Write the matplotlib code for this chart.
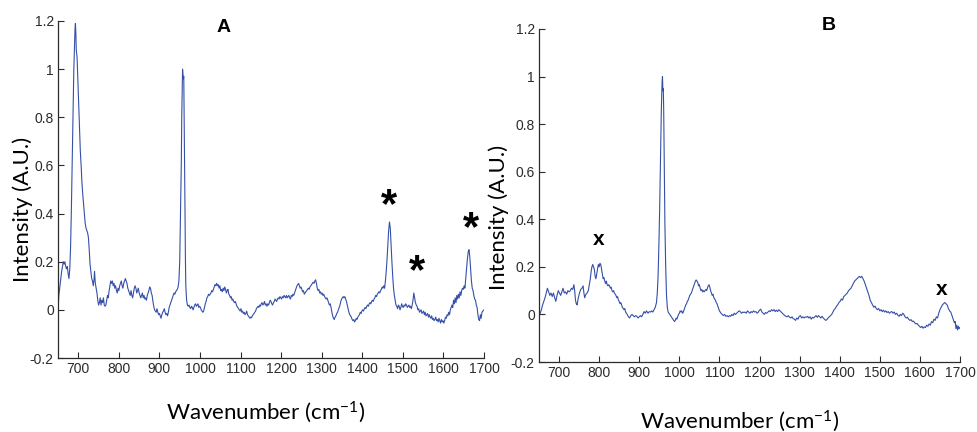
import numpy as np
import matplotlib.pyplot as plt
from matplotlib.ticker import FuncFormatter

# Spectre A
wn_a = [650, 652, 655, 657, 659, 661, 663, 665, 667, 669, 671, 673, 675, 677, 679, 681, 683, 685, 687, 689,
        691, 692, 693, 694, 695, 697, 699, 701, 703, 705, 707, 709, 711, 713, 715, 717, 719, 721, 723, 725,
        727, 729, 731, 733, 735, 737, 739, 740, 742, 744, 746, 748, 750, 752, 754, 756, 758, 760, 762, 764,
        766, 768, 770, 772, 774, 776, 778, 780, 782, 784, 786, 788, 790, 792, 794, 796, 798, 800, 802, 804,
        806, 808, 810, 812, 814, 816, 818, 820, 822, 824, 826, 828, 830, 832, 834, 836, 838, 840, 842, 844,
        846, 848, 850, 852, 854, 856, 858, 860, 862, 864, 866, 868, 870, 872, 874, 876, 878, 880, 882, 884,
        886, 888, 890, 892, 894, 896, 898, 900, 902, 904, 906, 908, 910, 912, 914, 916, 918, 920, 922, 924,
        926, 928, 930, 932, 934, 936, 938, 940, 942, 944, 946, 948, 950, 951, 952, 953, 954, 955, 956, 957,
        958, 959, 960, 961, 962, 963, 964, 965, 967, 969, 971, 973, 975, 977, 979, 981, 983, 985, 987, 989,
        991, 993, 995, 997, 999, 1001, 1003, 1005, 1007, 1009, 1011, 1013, 1015, 1017, 1019, 1021, 1023, 1025, 1027, 1029,
        1031, 1033, 1035, 1037, 1039, 1041, 1043, 1045, 1047, 1049, 1051, 1053, 1055, 1057, 1059, 1061, 1063, 1065, 1067, 1069,
        1071, 1073, 1075, 1077, 1079, 1081, 1083, 1085, 1087, 1089, 1091, 1093, 1095, 1097, 1099, 1101, 1103, 1105, 1107, 1109,
        1111, 1113, 1115, 1117, 1119, 1121, 1123, 1125, 1127, 1129, 1131, 1133, 1135, 1137, 1139, 1141, 1143, 1145, 1147, 1149,
        1151, 1153, 1155, 1157, 1159, 1161, 1163, 1165, 1167, 1169, 1171, 1173, 1175, 1177, 1179, 1181, 1183, 1185, 1187, 1189,
        1191, 1193, 1195, 1197, 1199, 1201, 1203, 1205, 1207, 1209, 1211, 1213, 1215, 1217, 1219, 1221, 1223, 1225, 1227, 1229,
        1231, 1233, 1235, 1237, 1239, 1241, 1243, 1245, 1247, 1249, 1251, 1253, 1255, 1257, 1259, 1261, 1263, 1265, 1267, 1269,
        1271, 1273, 1275, 1277, 1279, 1281, 1283, 1285, 1287, 1289, 1291, 1293, 1295, 1297, 1299, 1301, 1303, 1305, 1307, 1309,
        1311, 1313, 1315, 1317, 1319, 1321, 1323, 1325, 1327, 1329, 1331, 1333, 1335, 1337, 1339, 1341, 1343, 1345, 1347, 1349,
        1351, 1353, 1355, 1357, 1359, 1361, 1363, 1365, 1367, 1369, 1371, 1373, 1375, 1377, 1379, 1381, 1383, 1385, 1387, 1389,
        1391, 1393, 1395, 1397, 1399, 1401, 1403, 1405, 1407, 1409, 1411, 1413, 1415, 1417, 1419, 1421, 1423, 1425, 1427, 1429,
        1431, 1433, 1435, 1437, 1439, 1441, 1443, 1445, 1447, 1449, 1451, 1453, 1455, 1457, 1459, 1461, 1463, 1465, 1467, 1469,
        1471, 1473, 1475, 1477, 1479, 1481, 1483, 1485, 1487, 1489, 1491, 1493, 1495, 1497, 1499, 1501, 1503, 1505, 1507, 1509,
        1511, 1513, 1515, 1517, 1519, 1521, 1523, 1525, 1527, 1529, 1531, 1533, 1535, 1537, 1539, 1541, 1543, 1545, 1547, 1549,
        1551, 1553, 1555, 1557, 1559, 1561, 1563, 1565, 1567, 1569, 1571, 1573, 1575, 1577, 1579, 1581, 1583, 1585, 1587, 1589,
        1591, 1593, 1595, 1597, 1599, 1601, 1603, 1605, 1607, 1609, 1611, 1613, 1615, 1617, 1619, 1621, 1623, 1625, 1627, 1629,
        1631, 1633, 1635, 1637, 1639, 1641, 1643, 1645, 1647, 1649, 1651, 1653, 1655, 1657, 1659, 1661, 1663, 1665, 1667, 1669,
        1671, 1673, 1675, 1677, 1679, 1681, 1683, 1685, 1687, 1689, 1691, 1693, 1695, 1697, 1700]
int_a = [-0.01, 0.06, 0.10, 0.13, 0.16, 0.18, 0.20, 0.19, 0.20, 0.18, 0.17, 0.18, 0.15, 0.13, 0.17, 0.26, 0.42, 0.62, 0.84, 1.00,
         1.12, 1.17, 1.19, 1.15, 1.08, 1.05, 0.95, 0.84, 0.75, 0.66, 0.60, 0.53, 0.48, 0.44, 0.40, 0.36, 0.34, 0.33, 0.32, 0.30,
         0.25, 0.19, 0.16, 0.13, 0.12, 0.10, 0.13, 0.16, 0.11, 0.09, 0.07, 0.04, 0.02, 0.03, 0.05, 0.02, 0.04, 0.03, 0.05, 0.02,
         0.015, 0.02, 0.04, 0.06, 0.05, 0.08, 0.10, 0.12, 0.11, 0.12, 0.10, 0.11, 0.09, 0.10, 0.08, 0.07, 0.09, 0.08, 0.10, 0.11,
         0.12, 0.10, 0.09, 0.11, 0.12, 0.13, 0.12, 0.11, 0.09, 0.08, 0.07, 0.06, 0.08, 0.06, 0.05, 0.07, 0.09, 0.10, 0.09, 0.07,
         0.08, 0.09, 0.07, 0.06, 0.05, 0.06, 0.07, 0.05, 0.06, 0.045, 0.05, 0.04, 0.06, 0.07, 0.08, 0.095, 0.09, 0.07, 0.06, 0.035,
         0.015, 0.0, -0.005, -0.01, 0.005, -0.01, -0.02, -0.015, -0.025, -0.035, -0.02, -0.01, -0.005, 0.005, -0.01, -0.02, -0.015, -0.025, -0.01, 0.01,
         0.02, 0.03, 0.04, 0.05, 0.06, 0.07, 0.065, 0.075, 0.08, 0.085, 0.095, 0.12, 0.20, 0.30, 0.42, 0.48, 0.62, 0.80, 0.90, 1.00,
         0.98, 0.96, 0.97, 0.80, 0.60, 0.42, 0.22, 0.10, 0.04, 0.02, 0.015, 0.02, 0.01, 0.005, 0.015, 0.01, 0.0, 0.01, 0.02, 0.025,
         0.015, 0.02, 0.025, 0.01, 0.015, 0.01, 0.0, -0.005, -0.01, -0.005, 0.01, 0.025, 0.035, 0.05, 0.055, 0.065, 0.06, 0.065, 0.07, 0.08,
         0.075, 0.085, 0.095, 0.105, 0.10, 0.11, 0.10, 0.105, 0.09, 0.10, 0.08, 0.085, 0.075, 0.09, 0.08, 0.095, 0.085, 0.07, 0.08, 0.085,
         0.065, 0.06, 0.05, 0.055, 0.04, 0.045, 0.035, 0.03, 0.035, 0.025, 0.015, 0.01, 0.005, 0.0, -0.005, 0.005, -0.01, -0.005, -0.015, -0.01,
         -0.02, -0.015, -0.005, -0.02, -0.025, -0.03, -0.035, -0.03, -0.033, -0.025, -0.02, -0.015, -0.01, -0.005, 0.005, 0.01, 0.015, 0.01, 0.02, 0.015,
         0.025, 0.03, 0.02, 0.025, 0.035, 0.02, 0.025, 0.015, 0.025, 0.02, 0.03, 0.04, 0.035, 0.025, 0.02, 0.03, 0.035, 0.045, 0.04, 0.035,
         0.045, 0.05, 0.045, 0.055, 0.05, 0.045, 0.055, 0.05, 0.06, 0.055, 0.05, 0.06, 0.05, 0.055, 0.06, 0.05, 0.045, 0.06, 0.055, 0.065,
         0.06, 0.07, 0.08, 0.09, 0.10, 0.105, 0.11, 0.10, 0.09, 0.095, 0.085, 0.075, 0.08, 0.065, 0.07, 0.075, 0.08, 0.085, 0.09, 0.085,
         0.095, 0.10, 0.105, 0.11, 0.115, 0.11, 0.12, 0.125, 0.11, 0.09, 0.08, 0.085, 0.07, 0.075, 0.065, 0.07, 0.06, 0.065, 0.055, 0.05,
         0.045, 0.05, 0.04, 0.03, 0.02, 0.025, 0.01, -0.01, -0.025, -0.035, -0.04, -0.03, -0.025, -0.015, -0.01, 0.0, 0.01, 0.02, 0.035, 0.045,
         0.05, 0.055, 0.05, 0.055, 0.045, 0.035, 0.02, 0.005, -0.01, -0.02, -0.025, -0.03, -0.04, -0.045, -0.04, -0.05, -0.045, -0.035, -0.04, -0.03,
         -0.025, -0.02, -0.01, -0.015, -0.005, 0.0, -0.005, 0.005, 0.01, 0.005, 0.015, 0.02, 0.015, 0.025, 0.03, 0.025, 0.035, 0.04, 0.035, 0.045,
         0.05, 0.06, 0.055, 0.065, 0.07, 0.075, 0.07, 0.08, 0.085, 0.095, 0.09, 0.10, 0.09, 0.12, 0.16, 0.21, 0.27, 0.33, 0.365, 0.34,
         0.27, 0.20, 0.14, 0.09, 0.06, 0.04, 0.02, 0.015, 0.005, 0.02, 0.015, 0.0, 0.01, 0.025, 0.015, 0.01, 0.02, 0.015, 0.025, 0.02,
         0.01, 0.015, 0.02, 0.01, 0.015, 0.005, 0.02, 0.04, 0.07, 0.05, 0.03, 0.02, 0.015, 0.0, 0.005, -0.01, -0.005, 0.0, -0.015, -0.01,
         -0.005, -0.02, -0.01, -0.025, -0.02, -0.015, -0.03, -0.02, -0.03, -0.035, -0.025, -0.04, -0.035, -0.045, -0.04, -0.03, -0.045, -0.04, -0.05, -0.035,
         -0.045, -0.055, -0.04, -0.05, -0.045, -0.055, -0.045, -0.03, -0.035, -0.02, -0.025, -0.01, -0.02, 0.0, 0.01, 0.02, 0.01, 0.04, 0.025, 0.05,
         0.03, 0.06, 0.045, 0.065, 0.05, 0.075, 0.06, 0.08, 0.09, 0.085, 0.10, 0.09, 0.13, 0.17, 0.21, 0.24, 0.25, 0.22, 0.17, 0.12,
         0.09, 0.08, 0.06, 0.045, 0.04, 0.02, 0.01, -0.02, -0.04, -0.045, -0.02, -0.035, -0.01, -0.005, 0.0]

# Spectre B
wn_b = [650, 653, 656, 659, 662, 665, 668, 671, 674, 677, 680, 683, 686, 689, 692, 695, 698, 701, 704, 707,
        710, 713, 716, 719, 722, 725, 728, 731, 734, 737, 739, 741, 743, 745, 748, 751, 754, 757, 760, 762,
        764, 767, 770, 773, 776, 778, 780, 782, 784, 786, 788, 790, 792, 794, 796, 798, 800, 802, 804, 806,
        808, 810, 812, 814, 816, 818, 820, 822, 824, 826, 828, 830, 832, 834, 836, 838, 840, 842, 844, 846,
        848, 850, 852, 854, 856, 858, 860, 862, 864, 866, 868, 870, 873, 876, 879, 882, 885, 888, 891, 894,
        897, 900, 903, 906, 909, 912, 915, 918, 920, 922, 925, 928, 931, 934, 937, 940, 943, 945, 947, 949,
        951, 953, 955, 957, 958, 959, 960, 961, 962, 963, 964, 966, 968, 970, 972, 974, 976, 978, 980, 982,
        984, 986, 988, 990, 992, 994, 996, 998, 1000, 1002, 1004, 1006, 1008, 1010, 1012, 1014, 1016, 1018, 1020, 1022,
        1024, 1026, 1028, 1030, 1032, 1034, 1036, 1038, 1040, 1042, 1044, 1046, 1048, 1050, 1052, 1054, 1056, 1058, 1060, 1062,
        1064, 1066, 1068, 1070, 1072, 1074, 1076, 1078, 1080, 1082, 1084, 1086, 1088, 1090, 1092, 1094, 1096, 1098, 1100, 1102,
        1104, 1107, 1110, 1113, 1116, 1119, 1122, 1125, 1128, 1131, 1134, 1137, 1140, 1143, 1146, 1149, 1152, 1155, 1158, 1161,
        1164, 1167, 1170, 1173, 1176, 1179, 1182, 1185, 1188, 1191, 1194, 1197, 1200, 1203, 1206, 1209, 1212, 1215, 1218, 1221,
        1224, 1227, 1230, 1233, 1236, 1239, 1242, 1245, 1248, 1251, 1254, 1257, 1260, 1263, 1266, 1269, 1272, 1275, 1278, 1281,
        1284, 1287, 1290, 1293, 1296, 1299, 1302, 1305, 1308, 1311, 1314, 1317, 1320, 1323, 1326, 1329, 1332, 1335, 1338, 1341,
        1344, 1347, 1350, 1353, 1356, 1359, 1362, 1365, 1368, 1371, 1374, 1377, 1380, 1383, 1386, 1389, 1392, 1395, 1398, 1401,
        1404, 1407, 1410, 1413, 1416, 1419, 1422, 1425, 1428, 1431, 1434, 1437, 1440, 1443, 1446, 1449, 1452, 1455, 1458, 1461,
        1464, 1467, 1470, 1473, 1476, 1479, 1482, 1485, 1488, 1491, 1494, 1497, 1500, 1503, 1506, 1509, 1512, 1515, 1518, 1521,
        1524, 1527, 1530, 1533, 1536, 1539, 1542, 1545, 1548, 1551, 1554, 1557, 1560, 1563, 1566, 1569, 1572, 1575, 1578, 1581,
        1584, 1587, 1590, 1593, 1596, 1599, 1602, 1605, 1608, 1611, 1614, 1617, 1620, 1623, 1626, 1629, 1632, 1635, 1638, 1641,
        1644, 1647, 1650, 1653, 1656, 1659, 1662, 1665, 1668, 1671, 1674, 1677, 1680, 1683, 1686, 1688, 1690, 1692, 1694, 1696,
        1698, 1700]
int_b = [0.0, 0.005, 0.02, 0.04, 0.055, 0.07, 0.09, 0.11, 0.095, 0.08, 0.09, 0.075, 0.09, 0.07, 0.055, 0.08, 0.10, 0.09, 0.08, 0.095,
         0.11, 0.09, 0.095, 0.085, 0.10, 0.095, 0.10, 0.11, 0.105, 0.125, 0.10, 0.06, 0.045, 0.04, 0.07, 0.09, 0.105, 0.11, 0.12, 0.09,
         0.07, 0.085, 0.09, 0.10, 0.13, 0.15, 0.18, 0.20, 0.21, 0.20, 0.19, 0.16, 0.15, 0.17, 0.19, 0.21, 0.20, 0.215, 0.21, 0.19,
         0.17, 0.15, 0.155, 0.14, 0.13, 0.14, 0.125, 0.12, 0.125, 0.12, 0.11, 0.115, 0.10, 0.095, 0.10, 0.09, 0.085, 0.08, 0.07, 0.075,
         0.06, 0.055, 0.045, 0.05, 0.04, 0.03, 0.025, 0.02, 0.025, 0.01, 0.005, 0.0, -0.01, -0.015, -0.005, 0.0, -0.005, -0.01, -0.005, -0.008,
         -0.015, -0.01, -0.005, -0.01, 0.0, 0.012, 0.005, 0.015, 0.01, 0.005, 0.012, 0.01, 0.015, 0.01, 0.02, 0.03, 0.05, 0.09, 0.16, 0.29,
         0.45, 0.66, 0.85, 0.98, 1.0, 0.94, 0.95, 0.86, 0.70, 0.55, 0.38, 0.20, 0.08, 0.03, 0.01, 0.005, 0.0, -0.005, -0.01, -0.015,
         -0.02, -0.025, -0.03, -0.025, -0.015, -0.02, -0.01, 0.0, 0.005, 0.015, 0.01, 0.015, 0.005, 0.01, 0.02, 0.03, 0.04, 0.045, 0.055, 0.06,
         0.07, 0.08, 0.085, 0.09, 0.10, 0.11, 0.12, 0.13, 0.14, 0.145, 0.14, 0.135, 0.12, 0.125, 0.11, 0.10, 0.105, 0.095, 0.10, 0.095,
         0.10, 0.105, 0.10, 0.11, 0.12, 0.125, 0.115, 0.10, 0.09, 0.08, 0.085, 0.07, 0.065, 0.06, 0.05, 0.045, 0.035, 0.025, 0.015, 0.01,
         0.005, 0.0, -0.005, 0.0, -0.008, -0.005, -0.01, -0.005, -0.008, 0.0, -0.005, 0.005, 0.0, 0.005, 0.01, 0.015, 0.012, 0.005, 0.01, 0.008,
         0.01, 0.005, 0.015, 0.01, 0.005, 0.012, 0.008, 0.015, 0.01, 0.012, 0.005, 0.01, 0.018, 0.022, 0.01, 0.005, 0.0, 0.008, 0.005, 0.01,
         0.015, 0.012, 0.02, 0.015, 0.02, 0.012, 0.018, 0.012, 0.02, 0.015, 0.01, 0.005, 0.0, -0.005, -0.008, -0.01, -0.005, -0.012, -0.015, -0.01,
         -0.018, -0.02, -0.025, -0.015, -0.02, -0.008, -0.005, -0.015, -0.01, -0.015, -0.01, -0.012, -0.008, -0.015, -0.01, -0.02, -0.012, -0.015, -0.01, -0.005,
         -0.012, -0.005, -0.01, -0.015, -0.008, -0.015, -0.02, -0.025, -0.022, -0.015, -0.01, -0.005, 0.0, 0.01, 0.02, 0.025, 0.035, 0.04, 0.05, 0.055,
         0.065, 0.06, 0.075, 0.08, 0.085, 0.09, 0.10, 0.105, 0.11, 0.12, 0.13, 0.14, 0.145, 0.15, 0.155, 0.16, 0.155, 0.16, 0.15, 0.14,
         0.125, 0.11, 0.095, 0.08, 0.06, 0.05, 0.04, 0.03, 0.035, 0.025, 0.02, 0.025, 0.015, 0.02, 0.012, 0.018, 0.01, 0.015, 0.008, 0.012,
         0.005, 0.01, 0.012, 0.005, 0.01, 0.0, 0.005, -0.003, -0.008, 0.0, -0.005, 0.005, 0.0, -0.01, -0.015, -0.012, -0.02, -0.025, -0.022, -0.03,
         -0.028, -0.035, -0.04, -0.038, -0.045, -0.05, -0.055, -0.05, -0.058, -0.052, -0.055, -0.045, -0.05, -0.04, -0.045, -0.03, -0.035, -0.02, -0.025, -0.01,
         -0.015, 0.005, 0.02, 0.03, 0.04, 0.045, 0.05, 0.045, 0.04, 0.025, 0.015, 0.01, -0.005, -0.02, -0.035, -0.03, -0.06, -0.045, -0.065, -0.05,
         -0.06, -0.055]

# annotations (label, wavenumber, intensity)
marks_a = [("*", 1467, 0.43), ("*", 1535, 0.155), ("*", 1667, 0.335)]
marks_b = [("x", 798, 0.315), ("x", 1654, 0.105)]

xticks = list(range(700, 1800, 100))
yticks = [-0.2, 0, 0.2, 0.4, 0.6, 0.8, 1, 1.2]

plt.rcParams['axes.unicode_minus'] = False
plt.rcParams['mathtext.fontset'] = 'custom'
plt.rcParams['mathtext.rm'] = 'Lato'
plt.rcParams['mathtext.it'] = 'Lato'

line_col = '#3550a8'
tick_col = '#2b2b2b'

fig = plt.figure(figsize=(9.78, 4.32), dpi=100)
axA = fig.add_axes([58/978, 1-358/432, (484-58)/978, (358-21)/432])
axB = fig.add_axes([539/978, 1-362/432, (960-539)/978, (362-29)/432])

for ax, wn, inten in [(axA, wn_a, int_a), (axB, wn_b, int_b)]:
    ax.plot(wn, inten, color=line_col, lw=0.8)
    ax.set_xlim(650, 1700)
    ax.set_ylim(-0.2, 1.2)
    ax.set_xticks(xticks)
    ax.set_yticks(yticks)
    ax.yaxis.set_major_formatter(FuncFormatter(lambda v, p: '{:g}'.format(round(v, 2))))
    ax.spines['top'].set_visible(False)
    ax.spines['right'].set_visible(False)
    for s in ['left', 'bottom']:
        ax.spines[s].set_color(tick_col)
        ax.spines[s].set_linewidth(0.9)
    ax.tick_params(direction='in', length=4, width=0.8, color=tick_col, labelcolor=tick_col,
                   labelsize=10, pad=3)
    for lab in ax.get_xticklabels() + ax.get_yticklabels():
        lab.set_family('Liberation Sans')

for lab, x, y in marks_a:
    axA.text(x, y, lab, fontsize=30, fontweight='bold', ha='center', va='center', family='Liberation Sans')
for lab, x, y in marks_b:
    axB.text(x, y, lab, fontsize=15, fontweight='bold', ha='center', va='center', family='Liberation Sans')

fig.text(224/978, 1-27/432, 'A', fontsize=14, fontweight='bold', ha='center', va='center', family='Liberation Sans')
fig.text(829/978, 1-26/432, 'B', fontsize=14, fontweight='bold', ha='center', va='center', family='Liberation Sans')

fig.text(23/978, 1-209/432, 'Intensity (A.U.)', rotation=90, fontsize=16, ha='center', va='center', family='Lato')
fig.text(499/978, 1-217/432, 'Intensity (A.U.)', rotation=90, fontsize=16, ha='center', va='center', family='Lato')
fig.text(266/978, 1-412/432, 'Wavenumber (cm$^{-1}$)', fontsize=16, ha='center', va='center', family='Lato')
fig.text(740/978, 1-421/432, 'Wavenumber (cm$^{-1}$)', fontsize=16, ha='center', va='center', family='Lato')

fig.savefig('out.png', dpi=100)
